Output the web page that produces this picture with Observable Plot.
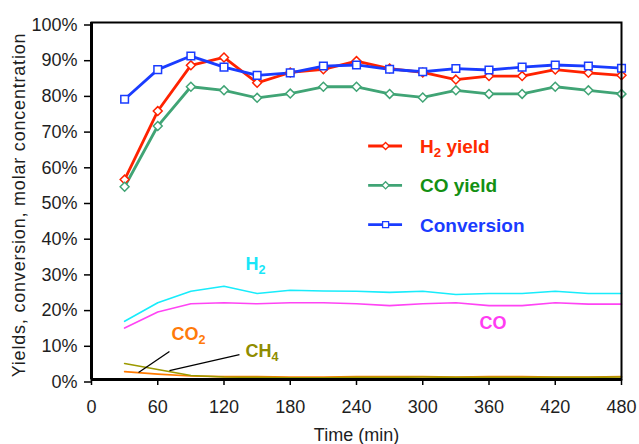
<!DOCTYPE html>
<html>
<head>
<meta charset="utf-8">
<script src="https://cdn.jsdelivr.net/npm/d3@7"></script>
<script src="https://cdn.jsdelivr.net/npm/@observablehq/plot@0.6"></script>
<style>
  html, body { margin: 0; padding: 0; background: #fff; }
  #chart svg { display: block; }
</style>
</head>
<body>
<div id="chart"></div>
<script>
// Sampling times (min)
const time = [30, 60, 90, 120, 150, 180, 210, 240, 270, 300, 330, 360, 390, 420, 450, 480];

// Yields and conversion (%)
const h2Yield    = [56.0, 75.2, 88.0, 90.2, 83.1, 86.0, 86.9, 89.2, 87.1, 86.0, 84.0, 85.0, 85.0, 86.8, 85.9, 85.2];
const coYield    = [54.0, 71.0, 82.0, 81.0, 78.9, 80.1, 82.0, 82.0, 80.0, 79.0, 81.0, 80.0, 80.0, 82.0, 81.0, 80.0];
const conversion = [78.5, 86.8, 90.6, 87.5, 85.2, 85.9, 87.8, 88.1, 86.9, 86.2, 87.1, 86.7, 87.5, 88.1, 87.8, 87.2];

// Molar concentrations in the product gas (%)
const h2Conc  = [16.3, 21.5, 24.7, 26.1, 24.1, 25.0, 24.8, 24.7, 24.4, 24.7, 23.8, 24.1, 24.1, 24.7, 24.1, 24.1];
const coConc  = [14.4, 18.9, 21.2, 21.5, 21.2, 21.5, 21.5, 21.2, 20.7, 21.2, 21.5, 20.7, 20.7, 21.5, 21.1, 21.1];
const co2Conc = [2.2, 1.5, 1.0, 0.8, 0.8, 0.7, 0.7, 0.8, 0.8, 0.8, 0.7, 0.8, 0.8, 0.7, 0.7, 0.8];
const ch4Conc = [4.5, 2.8, 1.1, 0.7, 0.6, 0.5, 0.5, 0.6, 0.6, 0.7, 0.6, 0.6, 0.6, 0.6, 0.6, 0.7];

// Axis ticks
const xTicks = [0, 60, 120, 180, 240, 300, 360, 420, 480];
const yTicks = [0, 10, 20, 30, 40, 50, 60, 70, 80, 90, 100];

const yLabel = "Yields, conversion, molar concentration";
const xLabel = "Time (min)";

const rows = (values) => time.map((t, i) => ({t, v: values[i]}));

// Yield / conversion series with markers
const mainSeries = [
  {name: "H2 yield",   values: h2Yield,    stroke: "#ff2200", text: "#ff2a00", symbol: "diamond2", r: 4.0, lr: 3.2},
  {name: "CO yield",   values: coYield,    stroke: "#40a475", text: "#139013", symbol: "diamond2", r: 4.0, lr: 3.2},
  {name: "Conversion", values: conversion, stroke: "#1a3cff", text: "#1a3cff", symbol: "square",   r: 4.3, lr: 3.4}
];

// Gas concentration series, labelled directly on the plot
const concSeries = [
  {name: "H2",  values: h2Conc,  stroke: "#18ecfb", text: "#18e6f8", at: [139.5, 32.4]},
  {name: "CO",  values: coConc,  stroke: "#ff44f4", text: "#ff3cf2", at: [351.5, 15.7]},
  {name: "CO2", values: co2Conc, stroke: "#ff7a00", text: "#ff7a0a", at: [72.5, 12.6]},
  {name: "CH4", values: ch4Conc, stroke: "#9c9a00", text: "#8f8c00", at: [139.5, 7.9]}
];

// Leader lines from the CO2 / CH4 labels to their curves
const leaders = [
  {x1: 70.6, y1: 7.85, x2: 42.6, y2: 1.95},
  {x1: 134.0, y1: 7.0, x2: 70.6, y2: 2.5}
];

// Legend layout (data units)
const legendLine = [251, 281.7];
const legendTextX = 297.5;
const legendTop = 65.4;
const legendStep = 11.0;

const marks = [];

// concentration curves (drawn first, under the yield curves)
for (const s of concSeries) {
  marks.push(Plot.line(rows(s.values), {x: "t", y: "v", stroke: s.stroke, strokeWidth: 1.6, curve: "linear"}));
}
marks.push(Plot.link(leaders, {x1: "x1", y1: "y1", x2: "x2", y2: "y2", stroke: "#000", strokeWidth: 1.3}));
for (const s of concSeries) {
  marks.push(Plot.text([s], {x: () => s.at[0], y: () => s.at[1], text: "name", fill: s.text,
    fontSize: 18, fontWeight: "bold", textAnchor: "start", lineAnchor: "middle"}));
}

// yield / conversion curves and markers
for (const s of mainSeries) {
  marks.push(Plot.line(rows(s.values), {x: "t", y: "v", stroke: s.stroke, strokeWidth: 2.8}));
}
for (const s of mainSeries) {
  marks.push(Plot.dot(rows(s.values), {x: "t", y: "v", symbol: s.symbol, r: s.r, fill: "white", stroke: s.stroke, strokeWidth: 1.5}));
}

// legend
mainSeries.forEach((s, i) => {
  const y = legendTop - i * legendStep;
  marks.push(Plot.ruleY([y], {x1: legendLine[0], x2: legendLine[1], stroke: s.stroke, strokeWidth: 2.8}));
  marks.push(Plot.dot([y], {x: (legendLine[0] + legendLine[1]) / 2, y: d => d, symbol: s.symbol, r: s.lr, fill: "white", stroke: s.stroke, strokeWidth: 1.3}));
  marks.push(Plot.text([s.name], {x: legendTextX, y: () => y, text: d => d, fill: s.text, fontSize: 19, fontWeight: "bold", textAnchor: "start", lineAnchor: "middle", dy: 1}));
});

// frame and axes
marks.push(Plot.frame({stroke: "#000", strokeWidth: 2}));
marks.push(Plot.ruleX([0], {stroke: "#000", strokeWidth: 3}));
marks.push(Plot.ruleY([0], {stroke: "#000", strokeWidth: 3}));
marks.push(Plot.axisY({ticks: yTicks, tickFormat: d => d + "%", tickSize: 7, tickPadding: 7, dy: 2.5,
  label: null, fontSize: 18, fill: "#1e1e1e", stroke: "#000", strokeWidth: 1.5}));
marks.push(Plot.axisX({ticks: xTicks, tickFormat: d => String(d), tickSize: 6, tickPadding: 15,
  label: null, fontSize: 18, fill: "#1e1e1e", stroke: "#000", strokeWidth: 1.5}));
marks.push(Plot.text([yLabel], {frameAnchor: "left", rotate: -90, dx: -66.5, dy: 4, lineAnchor: "bottom",
  textAnchor: "middle", text: d => d, fontSize: 18, fill: "#1e1e1e"}));
marks.push(Plot.text([xLabel], {frameAnchor: "bottom", dy: 61, lineAnchor: "bottom",
  textAnchor: "middle", text: d => d, fontSize: 18, fill: "#1e1e1e"}));

const chart = Plot.plot({
  width: 639,
  height: 444,
  marginLeft: 91,
  marginRight: 18,
  marginTop: 22,
  marginBottom: 65,
  style: {fontFamily: "'Liberation Sans', Arial, sans-serif", fontSize: "18px", background: "white", overflow: "visible"},
  x: {domain: [0, 480]},
  y: {domain: [0, 100]},
  marks
});

// chemical formulas: turn digits after an element symbol into subscripts
d3.select(chart).selectAll("text").each(function () {
  const el = this;
  const s = el.textContent;
  if (!/[A-Z]\d/.test(s)) return;
  const parts = s.split(/(?<=[A-Z])(\d)/);
  el.textContent = "";
  let shifted = false;
  parts.forEach((p, i) => {
    if (!p) return;
    const ts = document.createElementNS("http://www.w3.org/2000/svg", "tspan");
    ts.textContent = p;
    if (i % 2 === 1) {
      ts.setAttribute("font-size", "0.7em");
      ts.setAttribute("dy", "4");
      shifted = true;
    } else if (shifted) {
      ts.setAttribute("dy", "-4");
      shifted = false;
    }
    el.appendChild(ts);
  });
});

// widen the spacing of the vertical axis title
d3.select(chart).selectAll("text").filter(function () { return this.textContent === yLabel; })
  .style("letter-spacing", "0.8px");

document.getElementById("chart").appendChild(chart);
</script>
</body>
</html>
